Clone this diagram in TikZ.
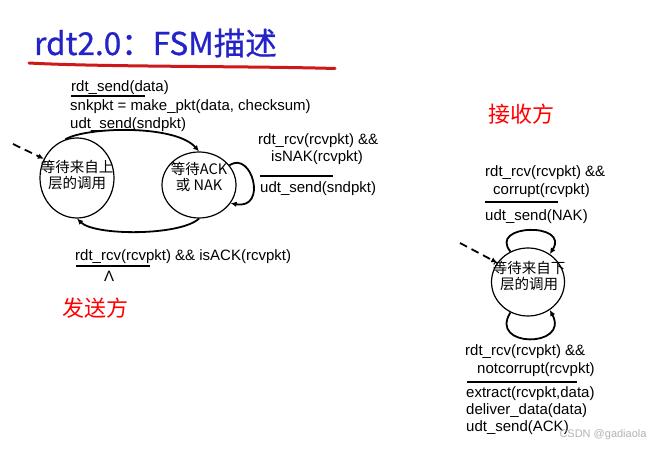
\documentclass[tikz,border=0pt]{standalone}
\usepackage{fontspec}
\setmainfont{Liberation Sans}
\newfontfamily\cjk{Noto Sans CJK SC}
\newfontfamily\titlefont[FakeBold=0.8]{Noto Sans CJK SC}
\usetikzlibrary{shapes.geometric,arrows.meta}
\definecolor{titleblue}{RGB}{35,35,200}
\definecolor{penred}{RGB}{205,25,25}

\begin{document}
\begin{tikzpicture}[x=1pt,y=-1pt,
    every node/.style={inner sep=0pt, font=\fontsize{15}{18}\selectfont},
    state/.style={ellipse, draw, line width=1.2pt},
    statetext/.style={align=center, font=\cjk\fontsize{14.5}{16}\selectfont},
    guard/.style={anchor=base west},
    bar/.style={line width=2.6pt},
    trans/.style={line width=1.8pt, -{Latex[length=6pt,width=5.5pt]}},
    entry/.style={trans, dash pattern=on 8pt off 5pt},
    side/.style={anchor=west, text=red, font=\cjk\fontsize{22}{24}\selectfont}]
  \useasboundingbox (0,0) rectangle (658,449);

  % title
  \node[anchor=base west, text=titleblue, font=\titlefont\fontsize{31.5}{33}\selectfont]
    (title) at (34,55) {rdt2.0：FSM描述};
  \draw[penred, line width=3pt, line cap=round]
    (29,63) .. controls (100,67) and (250,66) .. (335,68.5);

  % sender
  \node[state, minimum width=74pt, minimum height=80pt] (send0) at (77,178) {};
  \node[statetext] (send0txt) at (77,175) {等待来自上\\层的调用};
  \node[state, minimum width=74pt, minimum height=66pt] (send1) at (199,185) {};
  \node[statetext] (send1txt) at (199,176.5) {{\cjk 等待}ACK\\{\cjk 或} NAK};
  \coordinate (send0in) at (13,144);
  \draw[entry] (send0in) -- (send0.150);
  \draw[trans] (send0.107) .. controls (85,127) and (175,124) .. (send1.north);
  \draw[trans] (send1.south) .. controls (180,236) and (95,236) .. (send0.south);
  \draw[trans] (send1.33) .. controls (252,150) and (268,210) .. (send1.-30);

  \node[guard] (sendev) at (71,92) {rdt\_send(data)};
  \draw[bar] (71,96) -- (145,96);
  \node[guard] (sendmk) at (70,110.5) {snkpkt = make\_pkt(data, checksum)};
  \node[guard] (sendudt) at (70,129) {udt\_send(sndpkt)};

  \node[guard] (nakev) at (258,145) {rdt\_rcv(rcvpkt) \&\&};
  \node[guard] (nakchk) at (271,162) {isNAK(rcvpkt)};
  \draw[bar] (260,176) -- (333,176);
  \node[guard] (nakudt) at (260,193) {udt\_send(sndpkt)};

  \node[guard] (ackev) at (75,260) {rdt\_rcv(rcvpkt) \&\& isACK(rcvpkt)};
  \draw[bar] (76,266) -- (150,266);
  \node[guard] (acknil) at (104,281) {Λ};

  \node[side] (sender) at (62,308) {发送方};

  % receiver
  \node[side] (receiver) at (488,114) {接收方};

  \node[guard] (corev) at (485,177) {rdt\_rcv(rcvpkt) \&\&};
  \node[guard] (corchk) at (493,194) {corrupt(rcvpkt)};
  \draw[bar] (485,202) -- (558,202);
  \node[guard] (corudt) at (485,220) {udt\_send(NAK)};

  \node[state, minimum width=73pt, minimum height=68pt] (recv0) at (528,282) {};
  \node[statetext] (recv0txt) at (529,276) {等待来自下\\层的调用};
  \coordinate (recv0in) at (460,243);
  \draw[entry] (recv0in) -- (recv0.148);
  \draw[trans] (recv0.120) .. controls (488,224) and (570,222) .. (recv0.52);
  \draw[trans] (recv0.240) .. controls (488,348) and (570,348) .. (recv0.-52);

  \node[guard] (okev) at (465,355) {rdt\_rcv(rcvpkt) \&\&};
  \node[guard] (okchk) at (477,373) {notcorrupt(rcvpkt)};
  \draw[bar] (467,382) -- (577,382);
  \node[guard] (okext) at (466,397) {extract(rcvpkt,data)};
  \node[guard] (okdel) at (466,414) {deliver\_data(data)};
  \node[guard] (okudt) at (466,431) {udt\_send(ACK)};

  \node[text=black!30, font=\fontsize{11}{13}\selectfont] (mark) at (603,435) {CSDN @gadiaola};
\end{tikzpicture}
\end{document}
